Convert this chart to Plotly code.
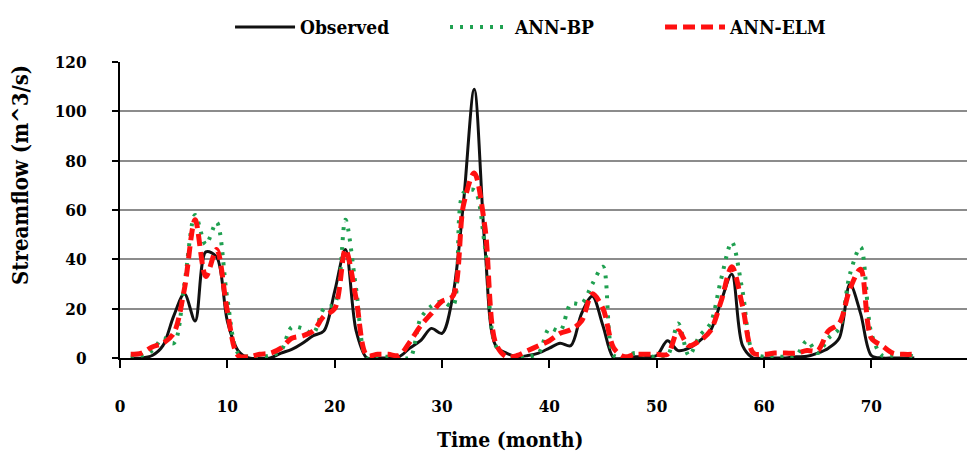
import plotly.graph_objects as go

months = list(range(1, 75))

observed = [0, 0, 1, 5, 17, 26, 15, 43, 41, 15, 3, 0, 0, 0, 2, 3.5, 6, 9, 11, 27,
            44, 11, 0, 0, 0, 0.5, 4, 7, 12, 10, 25, 63, 109, 45, 5, 2, 0.5, 1, 2, 4,
            6, 5, 18, 25, 13, 0, 0, 0.5, 0.5, 1, 7, 3, 4, 7, 11, 23, 34, 5, 0, 0,
            0, 0, 0.5, 0.7, 2, 4, 8, 30, 18, 1, 0, 0, 0, 0]

ann_bp = [1, 1, 3, 8, 6, 30, 58, 46, 55, 24, 2, 0.5, 0.5, 1, 3, 12.5, 12, 10, 20, 22,
          56, 28, 0, 0.5, 0.5, 0.5, 0, 16, 21, 23, 21, 67, 68, 45, 5, 1, 0.5, 0.5, 2, 12,
          11, 22, 22, 30, 37, 1, 0.5, 2, 1, 0.5, 1, 14, 1, 9, 14, 32, 47, 27, 2, 0.5,
          0.5, 0.5, 1, 7, 2, 8, 12, 34, 45, 10, 1, 1, 1.5, 0.5]

ann_elm = [1.5, 2, 4.5, 6, 10, 28, 56, 33, 44, 19, 1, 0.5, 1.5, 2, 4, 8, 9, 11, 17, 20,
           44, 24, 1, 1.5, 1.5, 1, 6.5, 13, 18, 23, 25, 62, 75, 53, 6, 0.5, 1, 3, 5, 7,
           10, 11.5, 15, 26, 20, 4, 0.5, 1.5, 1.5, 1.5, 1.5, 11, 5, 7, 11, 23, 37, 21, 2, 1.5,
           2, 2, 2, 3, 3, 11, 14, 28, 36, 8, 5, 2, 1.5, 1.5]

x_ticks = [0, 10, 20, 30, 40, 50, 60, 70, 80]
y_ticks = [0, 20, 40, 60, 80, 100, 120]

x_title = "Time (month)"
y_title = "Streamflow (m^3/s)"

FONT = "DejaVu Serif Condensed"

fig = go.Figure()
fig.add_trace(go.Scatter(x=months, y=observed, name="Observed", mode="lines",
                         line=dict(color="#111111", width=3, shape="spline", smoothing=0.9)))
fig.add_trace(go.Scatter(x=months, y=ann_bp, name="ANN-BP", mode="lines",
                         line=dict(color="#1fa050", width=4, dash="3px,7px", shape="spline", smoothing=0.9)))
fig.add_trace(go.Scatter(x=months, y=ann_elm, name="ANN-ELM", mode="lines",
                         line=dict(color="#ff1010", width=5, dash="12px,6px", shape="spline", smoothing=0.9)))

fig.update_layout(
    width=975, height=460,
    margin=dict(l=112, r=0, t=54, b=110),
    paper_bgcolor="white", plot_bgcolor="white",
    font=dict(family=FONT, size=17, color="black", weight="bold"),
    showlegend=True,
    legend=dict(orientation="h", x=0.1275, xanchor="left", y=1.182, yanchor="top",
                font=dict(family=FONT, size=19, weight="bold"),
                itemwidth=60, entrywidth=140, bgcolor="rgba(0,0,0,0)"),
    xaxis=dict(range=[0, 80.4], tickvals=x_ticks, showgrid=False, zeroline=False,
               automargin=False,
               showline=True, linecolor="black", linewidth=2,
               ticks="outside", ticklen=8, tickwidth=1.5, tickcolor="black",
               ticklabelstandoff=24, ticklabeloverflow="allow",
               tickfont=dict(family=FONT, size=17, weight="bold")),
    yaxis=dict(range=[0, 120], tickvals=y_ticks, showgrid=True, gridcolor="#8c8c8c",
               gridwidth=2, zeroline=False, automargin=False,
               showline=True, linecolor="black", linewidth=2,
               ticks="outside", ticklen=6, tickwidth=1.5, tickcolor="black",
               ticklabelstandoff=22,
               tickfont=dict(family=FONT, size=17, weight="bold")),
    annotations=[
        dict(text=x_title, xref="paper", yref="paper", x=0.452, y=-0.277,
             xanchor="center", yanchor="middle", showarrow=False,
             font=dict(family=FONT, size=21, weight="bold")),
        dict(text=y_title, xref="paper", yref="paper", x=-0.116, y=0.618,
             xanchor="center", yanchor="middle", showarrow=False, textangle=-90,
             font=dict(family=FONT, size=22, weight="bold")),
    ],
)

fig.write_html("out.html")
